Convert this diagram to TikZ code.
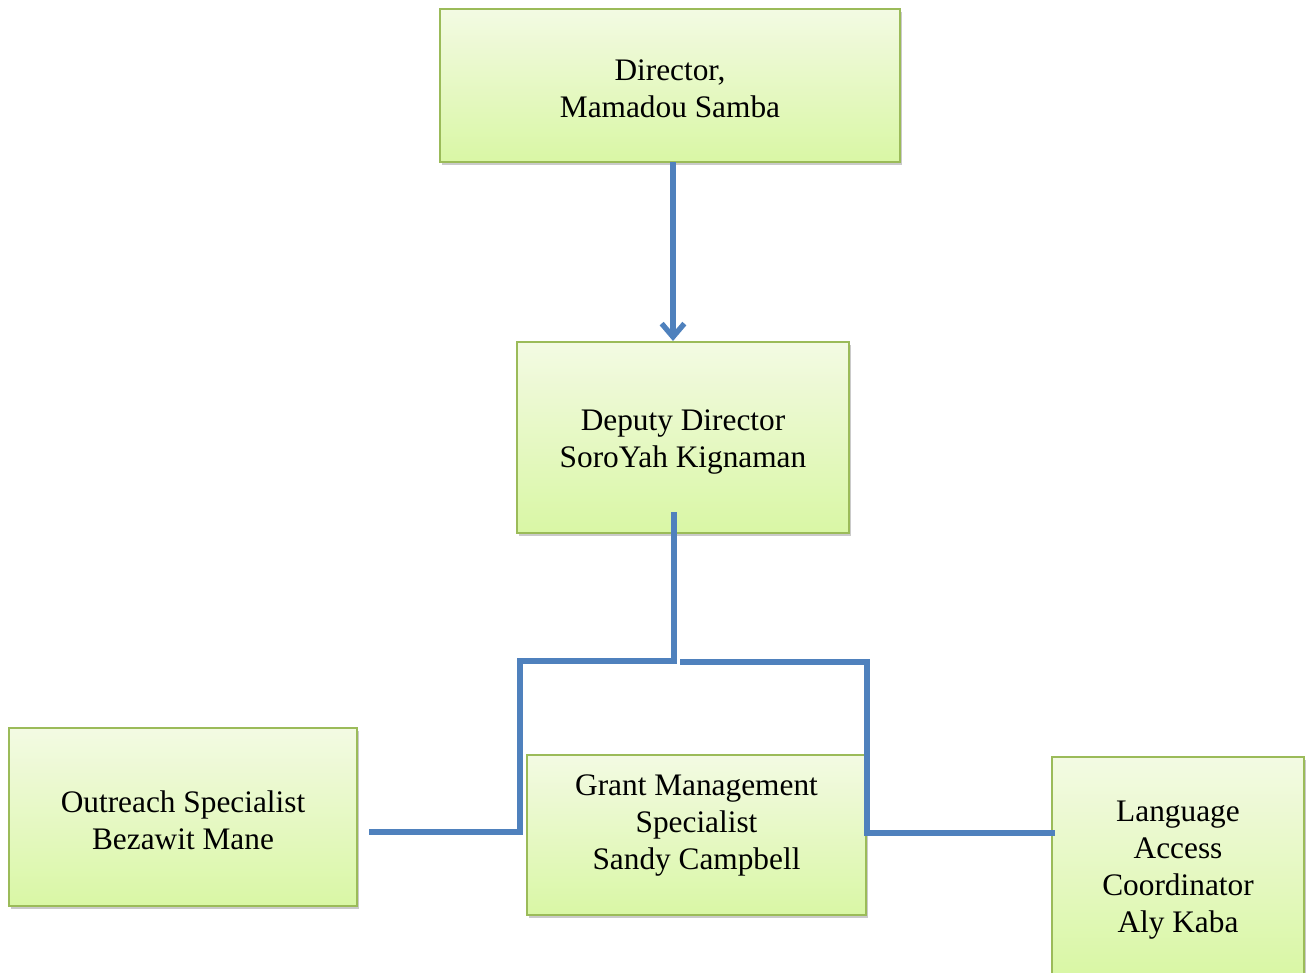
\documentclass[tikz,border=0pt]{standalone}
\usepackage{fontspec}
\setmainfont{Liberation Serif}
\usetikzlibrary{arrows.meta,shadows,calc}
\definecolor{boxtop}{HTML}{F3FAE3}
\definecolor{boxbot}{HTML}{D9F7A5}
\definecolor{boxline}{HTML}{9BBB59}
\definecolor{conn}{HTML}{4F81BD}
\tikzset{
  orgbox/.style={draw=boxline, line width=1.5pt, top color=boxtop, bottom color=boxbot,
    drop shadow={shadow xshift=1.5pt, shadow yshift=-2pt, opacity=0.35, fill=black!60},
    inner sep=0pt},
  txt/.style={align=center, inner sep=0pt, font=\fontsize{23.5}{27.75}\selectfont},
  connline/.style={draw=conn, line width=4.2pt},
}
\begin{document}
\begin{tikzpicture}[x=0.75pt,y=-0.75pt]
\useasboundingbox (0,0) rectangle (1307,972);
\node[orgbox, minimum width=460*0.75pt, minimum height=153*0.75pt] (dir) at (670,85.5) {};
\node[txt] (dirT) at (670,89) {Director,\\Mamadou Samba};
\node[orgbox, minimum width=332*0.75pt, minimum height=191*0.75pt] (dep) at (683,437.5) {};
\node[txt] (depT) at (683,442) {Deputy Director\\SoroYah Kignaman};
\node[orgbox, minimum width=348*0.75pt, minimum height=178*0.75pt] (out) at (183,817) {};
\node[txt] (outT) at (183,820.5) {Outreach Specialist\\Bezawit Mane};
\node[orgbox, minimum width=339*0.75pt, minimum height=160*0.75pt] (grant) at (696.5,835) {};
\node[txt] (grantT) at (696.5,825.5) {Grant Management\\Specialist\\Sandy Campbell};
\node[orgbox, minimum width=252*0.75pt, minimum height=217*0.75pt] (lang) at (1178,865.5) {};
\node[txt] (langT) at (1178,870) {Language\\Access\\Coordinator\\Aly Kaba};
\draw[connline, -{Straight Barb[length=10pt,width=17pt,line width=4pt]}] (673,162) -- (dep.north -| 673,0);
\coordinate (dstart) at (674,512);
\coordinate (oend) at (369,832);
\coordinate (lend) at (1055,833);
\draw[connline] (dstart) -- (674,661) -- (520,661) -- (520,832) -- (oend);
\draw[connline] (680,662) -- (867,662) -- (867,833) -- (lend);
\end{tikzpicture}
\end{document}
